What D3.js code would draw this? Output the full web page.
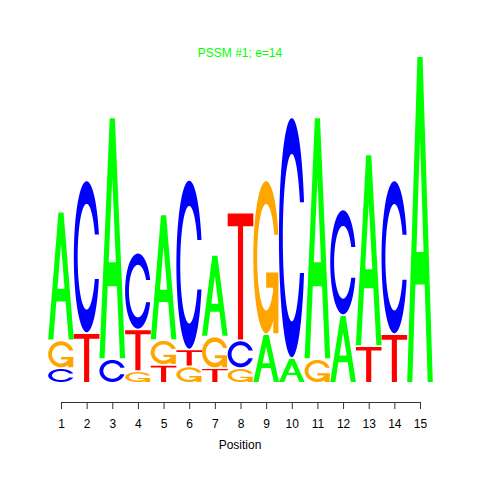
<!DOCTYPE html>
<html>
<head>
<meta charset="utf-8">
<script src="https://cdn.jsdelivr.net/npm/d3@7"></script>
<style>
  body { margin: 0; background: #fff; }
  text { font-family: "Liberation Sans", Arial, sans-serif; }
</style>
</head>
<body>
<svg id="logo" width="480" height="480"></svg>
<script>
// letter heights (bits) per position
const positions = [1, 2, 3, 4, 5, 6, 7, 8, 9, 10, 11, 12, 13, 14, 15];
const heightA = [0.743, 0, 1.404, 0, 0.725, 0, 0.468, 0, 0.275, 0.135, 1.404, 0.386, 1.111, 0, 1.901];
const heightC = [0.076, 0.883, 0.129, 0.439, 0, 0.982, 0, 0.152, 0, 1.398, 0, 0.608, 0, 0.889, 0];
const heightG = [0.152, 0, 0, 0.058, 0.135, 0.086, 0.175, 0.076, 0.889, 0, 0.129, 0, 0, 0, 0];
const heightT = [0, 0.281, 0, 0.234, 0.095, 0.089, 0.076, 0.737, 0, 0, 0, 0, 0.205, 0.275, 0];
const title = "PSSM #1; e=14";
const xLabel = "Position";

const colors = {A: "#00ff00", C: "#0000ff", G: "#ffa500", T: "#ff0000"};

// glyph outlines in a unit box, y pointing up (same shapes as seqLogo)
const seq = (a, b, n) => d3.range(n).map(i => a + (b - a) * i / (n - 1));

function ring() {
  const angle1 = seq(0.3 + Math.PI / 2, Math.PI, 100);
  const angle2 = seq(Math.PI, 1.5 * Math.PI, 100);
  const xl1 = angle1.map(a => 0.5 + 0.5 * Math.sin(a)), yl1 = angle1.map(a => 0.5 + 0.5 * Math.cos(a));
  const xl2 = angle2.map(a => 0.5 + 0.5 * Math.sin(a)), yl2 = angle2.map(a => 0.5 + 0.5 * Math.cos(a));
  const xl = xl1.concat(xl2), yl = yl1.concat(yl2);
  const x = xl.concat(xl.slice().reverse());
  const y = yl.concat(yl.slice().reverse().map(v => 1 - v));

  const top1 = d3.max(yl1);
  let xi1 = angle1.map(a => 0.5 + 0.35 * Math.sin(a)), yi1 = angle1.map(a => 0.5 + 0.35 * Math.cos(a));
  const keep = yi1.map(v => v <= top1);
  xi1 = xi1.filter((v, i) => keep[i]);
  yi1 = yi1.filter((v, i) => keep[i]);
  yi1[0] = top1;
  const xi2 = angle2.map(a => 0.5 + 0.35 * Math.sin(a)), yi2 = angle2.map(a => 0.5 + 0.35 * Math.cos(a));
  const xi = xi1.concat(xi2), yi = yi1.concat(yi2);
  const x1 = xi.concat(xi.slice().reverse());
  const y1 = yi.concat(yi.slice().reverse().map(v => 1 - v));

  const X = x.concat(x1.slice().reverse()), Y = y.concat(y1.slice().reverse());
  return {pts: X.map((v, i) => [v, Y[i]]), r1: d3.max(xl1)};
}

const glyphs = {
  A: [
    {fill: "A", pts: [[0,0],[.4,1],[.6,1],[1,0],[.8,0],[.68,.3],[.32,.3],[.2,0],[0,0]]},
    {fill: "white", pts: [[.36,.4],[.5,.75],[.64,.4],[.36,.4]]}
  ],
  T: [
    {fill: "T", pts: [[0,1],[1,1],[1,.9],[.6,.9],[.6,0],[.4,0],[.4,.9],[0,.9]]}
  ],
  C: [
    {fill: "C", pts: ring().pts}
  ],
  G: (function() {
    const r = ring();
    const h1 = 0.4;
    return [
      {fill: "G", pts: r.pts},
      {fill: "G", pts: [[r.r1,h1],[.5,h1],[.5,h1-.1],[r.r1-.2,h1-.1],[r.r1-.2,0],[r.r1,0],[r.r1,h1]]}
    ];
  })()
};

const svg = d3.select("#logo");
svg.append("rect").attr("width", 480).attr("height", 480).attr("fill", "white");

const x = d3.scaleLinear().domain([1, 15]).range([61, 420]);
const y = d3.scaleLinear().domain([0, 2]).range([382, 40]);
const wt = x(2) - x(1);

const line = d3.line();
const letters = svg.append("g").attr("class", "letters");

positions.forEach(function(p, j) {
  const column = [
    {ch: "A", ht: heightA[j]},
    {ch: "C", ht: heightC[j]},
    {ch: "G", ht: heightG[j]},
    {ch: "T", ht: heightT[j]}
  ].sort((a, b) => a.ht - b.ht);

  let ypos = 0;
  column.forEach(function(d) {
    if (d.ht > 0) {
      const x0 = x(p) - wt / 2;
      const yb = ypos, ht = d.ht;
      glyphs[d.ch].forEach(function(poly) {
        const pts = poly.pts.map(q => [x0 + q[0] * wt, y(yb + q[1] * ht)]);
        letters.append("path")
          .attr("d", line(pts) + "Z")
          .attr("fill", poly.fill === "white" ? "white" : colors[poly.fill])
          .attr("stroke", "none");
      });
      ypos += d.ht + 0.01;
    }
  });
});

// x axis
const xAxis = d3.axisBottom(x)
  .tickValues(positions)
  .tickFormat(d3.format("d"))
  .tickSize(7)
  .tickSizeOuter(0)
  .tickPadding(10);

const ax = svg.append("g")
  .attr("class", "x axis")
  .attr("transform", "translate(0,402)")
  .call(xAxis);
ax.select(".domain").attr("stroke", "#333");
ax.selectAll(".tick line").attr("stroke", "#333");
ax.selectAll("text")
  .attr("font-size", 12)
  .attr("fill", "black")
  .style("font-family", "'Liberation Sans', Arial, sans-serif");

svg.append("text")
  .attr("x", 240)
  .attr("y", 449)
  .attr("text-anchor", "middle")
  .attr("font-size", 12)
  .attr("fill", "black")
  .text(xLabel);

svg.append("text")
  .attr("x", 240)
  .attr("y", 57)
  .attr("text-anchor", "middle")
  .attr("font-size", 12)
  .attr("fill", "#00ff00")
  .text(title);
</script>
</body>
</html>
